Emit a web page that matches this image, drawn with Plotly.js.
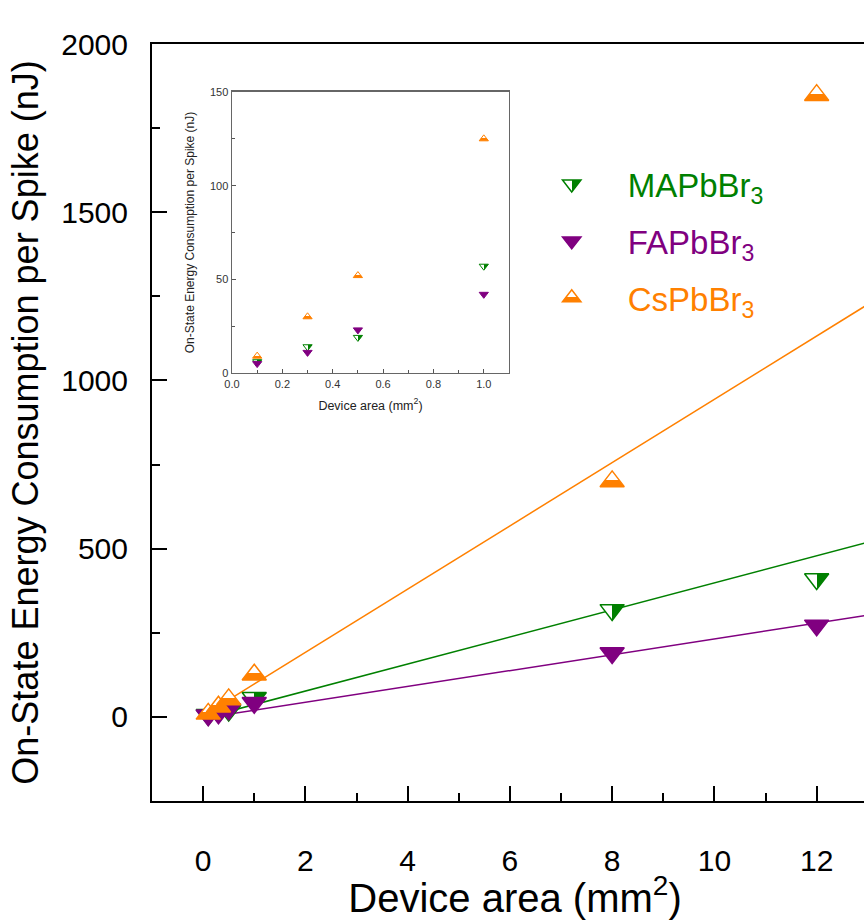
<!DOCTYPE html>
<html>
<head>
<meta charset="utf-8">
<script src="https://cdn.plot.ly/plotly-3.0.1.min.js"></script>
<style>
html, body { margin: 0; padding: 0; overflow: hidden; background: #fff; }
#chart { width: 1000px; height: 920px; }
</style>
</head>
<body>
<div id="chart"></div>
<script>
// Data
const area = [0.1, 0.3, 0.5, 1, 8, 12];
const maEnergy = [6, 14, 19, 57, 318, 410];
const faEnergy = [5, 11, 23, 42, 190, 272];
const csEnergy = [9, 30, 52, 125, 700, 1848];

const insetArea = [0.1, 0.3, 0.5, 1];
const maInset = [6, 14, 19, 57];
const faInset = [5, 11, 23, 42];
const csInset = [9, 30, 52, 125];

// Linear-fit lines (end points)
const fitArea = [0.1, 14];
const maFit = [0.4, 559];
const faFit = [-1.4, 326];
const csFit = [13, 1320];

const xTicks = [0, 2, 4, 6, 8, 10, 12];
const yTicks = [0, 500, 1000, 1500, 2000];
const insetXTicks = [0, 0.2, 0.4, 0.6, 0.8, 1.0];
const insetXLabels = ['0.0', '0.2', '0.4', '0.6', '0.8', '1.0'];
const insetYTicks = [0, 50, 100, 150];

const GREEN = '#008000';
const PURPLE = '#800080';
const ORANGE = '#ff8000';

const names = ['MAPbBr<sub>3</sub>', 'FAPbBr<sub>3</sub>', 'CsPbBr<sub>3</sub>'];

function styled(name, color) {
  return '<span style="color:' + color + '">' + name + '</span>';
}

const traces = [
  // fit lines
  {x: fitArea, y: maFit, mode: 'lines', line: {color: GREEN, width: 1.5}, showlegend: false, hoverinfo: 'skip'},
  {x: fitArea, y: faFit, mode: 'lines', line: {color: PURPLE, width: 1.5}, showlegend: false, hoverinfo: 'skip'},
  {x: fitArea, y: csFit, mode: 'lines', line: {color: ORANGE, width: 1.5}, showlegend: false, hoverinfo: 'skip'},
  // main markers
  {x: area, y: maEnergy, mode: 'markers', name: styled(names[0], GREEN), legendgroup: 'a', uid: 'ma',
   marker: {symbol: 'triangle-down', size: 21, color: '#ffffff', gradient: {type: 'horizontal', color: GREEN}, line: {color: GREEN, width: 1.5}}},
  {x: area, y: faEnergy, mode: 'markers', name: styled(names[1], PURPLE), legendgroup: 'b', uid: 'fa',
   marker: {symbol: 'triangle-down', size: 21, color: PURPLE, line: {color: PURPLE, width: 1.5}}},
  {x: area, y: csEnergy, mode: 'markers', name: styled(names[2], ORANGE), legendgroup: 'c', uid: 'cs',
   marker: {symbol: 'triangle-up', size: 21, color: '#ffffff', gradient: {type: 'vertical', color: ORANGE}, line: {color: ORANGE, width: 1.5}}},
  // inset markers
  {x: insetArea, y: maInset, xaxis: 'x2', yaxis: 'y2', mode: 'markers', showlegend: false, uid: 'ma2',
   marker: {symbol: 'triangle-down', size: 8, color: '#ffffff', gradient: {type: 'horizontal', color: GREEN}, line: {color: GREEN, width: 1}}},
  {x: insetArea, y: faInset, xaxis: 'x2', yaxis: 'y2', mode: 'markers', showlegend: false, uid: 'fa2',
   marker: {symbol: 'triangle-down', size: 8, color: PURPLE, line: {color: PURPLE, width: 1}}},
  {x: insetArea, y: csInset, xaxis: 'x2', yaxis: 'y2', mode: 'markers', showlegend: false, uid: 'cs2',
   marker: {symbol: 'triangle-up', size: 8, color: '#ffffff', gradient: {type: 'vertical', color: ORANGE}, line: {color: ORANGE, width: 1}}}
];

const FONT = 'Liberation Sans, Arial, sans-serif';

const layout = {
  width: 1000,
  height: 920,
  margin: {l: 152, r: 122, t: 44, b: 119},
  paper_bgcolor: '#ffffff',
  plot_bgcolor: '#ffffff',
  font: {family: FONT, color: '#000'},
  showlegend: true,
  legend: {
    x: 0.501, y: 0.852, xanchor: 'left', yanchor: 'top',
    font: {size: 33, family: FONT},
    itemwidth: 102,
    tracegroupgap: 11,
    bgcolor: 'rgba(0,0,0,0)',
    borderwidth: 0
  },
  xaxis: {
    range: [-1, 13.2],
    tickvals: xTicks,
    ticks: 'inside', ticklen: 15, tickwidth: 2, tickcolor: '#000',
    minor: {dtick: 1, tick0: 1, ticks: 'inside', ticklen: 8, tickwidth: 2, tickcolor: '#000'},
    showline: true, linecolor: '#000', linewidth: 2, mirror: true,
    showgrid: false, zeroline: false,
    tickfont: {size: 30, family: FONT},
    ticklabelstandoff: 32,
    title: {text: 'Device area (mm<sup>2</sup>)', font: {size: 40, family: FONT}, standoff: 6}
  },
  yaxis: {
    range: [-250, 2000],
    tickvals: yTicks,
    ticks: 'inside', ticklen: 15, tickwidth: 2, tickcolor: '#000',
    minor: {dtick: 250, tick0: 0, ticks: 'inside', ticklen: 8, tickwidth: 2, tickcolor: '#000'},
    showline: true, linecolor: '#000', linewidth: 2, mirror: true,
    showgrid: false, zeroline: false,
    tickfont: {size: 30, family: FONT},
    ticklabelstandoff: 16,
    title: {text: 'On-State Energy Consumption per Spike (nJ)', font: {size: 36, family: FONT}, standoff: 12}
  },
  xaxis2: {
    domain: [0.1102, 0.4917], anchor: 'y2',
    range: [0, 1.1],
    tickvals: insetXTicks,
    ticktext: insetXLabels,
    ticks: 'inside', ticklen: 4, tickwidth: 1, tickcolor: '#555',
    minor: {dtick: 0.1, tick0: 0.1, ticks: 'inside', ticklen: 2.5, tickwidth: 1, tickcolor: '#555'},
    showline: true, linecolor: '#666', linewidth: 1.5, mirror: true,
    showgrid: false, zeroline: false,
    tickfont: {size: 11, family: FONT, color: '#333'},
    title: {text: 'Device area (mm<sup>2</sup>)', font: {size: 12.5, family: FONT, color: '#222'}, standoff: 12}
  },
  yaxis2: {
    domain: [0.5654, 0.9366], anchor: 'x2',
    range: [0, 150],
    tickvals: insetYTicks,
    ticks: 'inside', ticklen: 4, tickwidth: 1, tickcolor: '#555',
    minor: {dtick: 25, tick0: 0, ticks: 'inside', ticklen: 2.5, tickwidth: 1, tickcolor: '#555'},
    showline: true, linecolor: '#666', linewidth: 1.5, mirror: true,
    showgrid: false, zeroline: false,
    tickfont: {size: 11, family: FONT, color: '#333'},
    title: {text: 'On-State Energy Consumption per Spike (nJ)', font: {size: 12, family: FONT, color: '#222'}, standoff: 12}
  }
};

function sharpenGradients() {
  // Make the two-colour marker gradients split sharply (half-filled symbols)
  document.querySelectorAll('linearGradient').forEach(function(g) {
    const stops = g.querySelectorAll('stop');
    if (stops.length !== 2) return;
    const vertical = g.getAttribute('y1') === '1' || g.getAttribute('y1') === '100%';
    const off = vertical ? '42%' : '50%';
    stops[0].setAttribute('offset', off);
    stops[1].setAttribute('offset', off);
  });
}

Plotly.newPlot('chart', traces, layout, {staticPlot: true, displayModeBar: false}).then(sharpenGradients);
</script>
</body>
</html>
